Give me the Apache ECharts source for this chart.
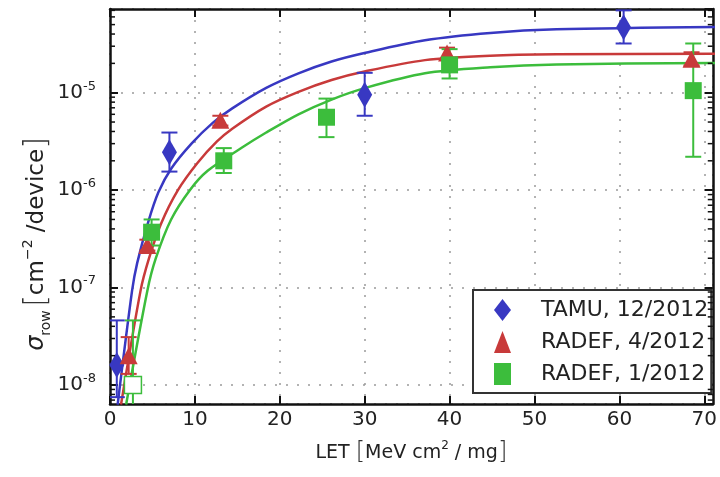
<!DOCTYPE html>
<html>
<head>
<meta charset="utf-8">
<script src="https://cdn.jsdelivr.net/npm/echarts@6/dist/echarts.min.js"></script>
<style>
html, body { margin: 0; padding: 0; background: #fff; }
#chart { width: 720px; height: 477px; }
</style>
</head>
<body>
<div id="chart"></div>
<script>
// measured points: [LET, sigma, sigma low, sigma high]
var tamuPoints = [
  [0.8, 1.6e-8, 7.5e-9, 4.6e-8],
  [7.0, 2.45e-6, 1.55e-6, 3.9e-6],
  [30.0, 9.5e-6, 5.8e-6, 1.6e-5],
  [60.5, 4.7e-5, 3.2e-5, 7.0e-5]
];
var radefAprPoints = [
  [2.2, 2.0e-8, 1.3e-8, 3.1e-8],
  [4.4, 2.7e-7, 2.4e-7, 3.1e-7],
  [13.0, 5.2e-6, 4.6e-6, 5.8e-6],
  [39.7, 2.55e-5, 2.2e-5, 2.9e-5],
  [68.5, 2.2e-5, 1.9e-5, 2.6e-5]
];
var radefJanPoints = [
  [2.7, 1.0e-8, 5.0e-9, 4.6e-8],
  [4.9, 3.7e-7, 2.7e-7, 5.0e-7],
  [13.4, 2.0e-6, 1.5e-6, 2.7e-6],
  [25.5, 5.6e-6, 3.5e-6, 8.7e-6],
  [40.0, 1.93e-5, 1.4e-5, 2.8e-5],
  [68.7, 1.05e-5, 2.2e-6, 3.2e-5]
];
var radefJanOpenIndex = 0; // upper-limit point drawn hollow

// fitted curves
var tamuFitLet   = [0.9, 2.6, 3.2, 4.5, 5.7, 7.2, 9.6, 12.1, 14.4, 18.4, 22.2, 26.1, 30.1, 37.1, 44.8, 52.6, 71.5];
var tamuFitSigma = [6.3e-9, 9.3e-8, 1.78e-7, 4.7e-7, 9.5e-7, 1.66e-6, 3.0e-6, 4.9e-6, 6.9e-6, 1.12e-5, 1.58e-5, 2.09e-5, 2.57e-5, 3.45e-5, 4.1e-5, 4.47e-5, 4.73e-5];
var radefAprFitLet   = [1.3, 3.6, 4.6, 6.0, 8.0, 10.3, 12.6, 14.4, 18.4, 22.2, 26.1, 30.1, 37.1, 44.8, 52.6, 71.5];
var radefAprFitSigma = [6.3e-9, 9.3e-8, 2.0e-7, 4.5e-7, 1.0e-6, 1.9e-6, 3.16e-6, 4.27e-6, 7.2e-6, 1.02e-5, 1.35e-5, 1.66e-5, 2.16e-5, 2.4e-5, 2.48e-5, 2.51e-5];
var radefJanFitLet   = [1.9, 4.4, 5.4, 7.2, 9.4, 11.5, 15.6, 18.4, 22.2, 26.1, 30.1, 37.1, 44.8, 52.6, 71.5];
var radefJanFitSigma = [6.3e-9, 9.3e-8, 2.0e-7, 5.0e-7, 1.0e-6, 1.58e-6, 2.75e-6, 3.9e-6, 6.0e-6, 8.5e-6, 1.12e-5, 1.58e-5, 1.82e-5, 1.95e-5, 2.02e-5];

var seriesNames = ['TAMU, 12/2012', 'RADEF, 4/2012', 'RADEF, 1/2012'];
var xTicks = [0, 10, 20, 30, 40, 50, 60, 70];

var X_MIN = 0, X_MAX = 71;
var Y_MIN = 6.38e-9, Y_MAX = 7.23e-5;

var BLUE = '#3838c2', RED = '#c83a3a', GREEN = '#3cbd3c';
var FONT = 'DejaVu Sans';

function pairs(xs, ys) {
  return xs.map(function (x, i) { return [x, ys[i]]; });
}

function errorBars(points, color) {
  return {
    type: 'custom',
    silent: true,
    clip: true,
    z: 3,
    data: points.map(function (p) { return [p[0], p[2], p[3]]; }),
    encode: { x: 0, y: [1, 2] },
    renderItem: function (params, api) {
      var lo = api.coord([api.value(0), api.value(1)]);
      var hi = api.coord([api.value(0), api.value(2)]);
      var w = 8;
      var st = { stroke: color, lineWidth: 2 };
      return {
        type: 'group',
        children: [
          { type: 'line', shape: { x1: lo[0], y1: lo[1], x2: hi[0], y2: hi[1] }, style: st },
          { type: 'line', shape: { x1: lo[0] - w, y1: lo[1], x2: lo[0] + w, y2: lo[1] }, style: st },
          { type: 'line', shape: { x1: hi[0] - w, y1: hi[1], x2: hi[0] + w, y2: hi[1] }, style: st }
        ]
      };
    }
  };
}

function fitLine(name, xs, ys, color) {
  return {
    name: name,
    type: 'line',
    data: pairs(xs, ys),
    smooth: 0.3,
    showSymbol: false,
    silent: true,
    z: 2,
    lineStyle: { color: color, width: 2.5 }
  };
}

// minor ticks of the log axis (2..9 x 10^n)
var minorTicks = [];
for (var e = -9; e <= -5; e++) {
  for (var m = 2; m <= 9; m++) {
    var v = m * Math.pow(10, e);
    if (v > Y_MIN && v < Y_MAX) minorTicks.push(v);
  }
}

var janData = radefJanPoints.map(function (p, i) {
  if (i === radefJanOpenIndex) {
    return { value: [p[0], p[1]], itemStyle: { color: '#fff', borderColor: GREEN, borderWidth: 1.5 } };
  }
  return [p[0], p[1]];
});

var chart = echarts.init(document.getElementById('chart'));

var xAxisBase = {
  type: 'value',
  min: X_MIN,
  max: X_MAX,
  interval: 10,
  axisLine: { onZero: false, lineStyle: { color: '#111', width: 2.5 } },
  axisTick: { inside: true, length: 8, lineStyle: { color: '#111', width: 2 } }
};
var yAxisBase = {
  type: 'log',
  logBase: 10,
  min: Y_MIN,
  max: Y_MAX,
  axisLine: { onZero: false, lineStyle: { color: '#111', width: 2.5 } },
  axisTick: { inside: true, length: 8, lineStyle: { color: '#111', width: 2 } }
};

chart.setOption({
  animation: false,
  backgroundColor: '#fff',
  grid: { left: 110, right: 2, top: 9, bottom: 73 },
  xAxis: [
    Object.assign({}, xAxisBase, {
      position: 'bottom',
      axisLabel: {
        fontSize: 20, color: '#222', fontFamily: FONT, margin: 6,
        showMaxLabel: false,
        formatter: function (v) { return xTicks.indexOf(v) >= 0 ? String(v) : ''; }
      },
      splitLine: { show: true, lineStyle: { color: '#9a9a9a', width: 1.5, type: [2, 9] } },
      name: '{t|LET }{b|[}{t|MeV cm}{sup|2}{t| / mg}{b|]}',
      nameLocation: 'middle',
      nameGap: 36,
      nameTextStyle: {
        rich: {
          t: { fontSize: 19, fontFamily: FONT, color: '#222', lineHeight: 26 },
          b: { fontSize: 24, fontFamily: FONT, color: '#333', fontWeight: 'lighter', lineHeight: 26 },
          sup: { fontSize: 12, fontFamily: FONT, color: '#222', verticalAlign: 'top', lineHeight: 14 }
        }
      }
    }),
    Object.assign({}, xAxisBase, {
      position: 'top',
      axisLabel: { show: false },
      splitLine: { show: false }
    })
  ],
  yAxis: [
    Object.assign({}, yAxisBase, {
      position: 'left',
      axisLabel: {
        margin: 14,
        showMinLabel: false,
        showMaxLabel: false,
        formatter: function (v) {
          var ex = Math.log10(v);
          var r = Math.round(ex);
          if (Math.abs(ex - r) > 0.01) return '';
          return '{b|10}{s|' + r + '}';
        },
        rich: {
          b: { fontSize: 20, fontFamily: FONT, color: '#222', lineHeight: 26 },
          s: { fontSize: 13, fontFamily: FONT, color: '#222', verticalAlign: 'top', lineHeight: 14 }
        }
      },
      splitLine: { show: true, lineStyle: { color: '#9a9a9a', width: 1.5, type: [2, 9] } }
    }),
    Object.assign({}, yAxisBase, {
      position: 'right',
      axisLabel: { show: false },
      splitLine: { show: false }
    })
  ],
  legend: {
    orient: 'vertical',
    left: 473,
    top: 290,
    data: [
      { name: seriesNames[0], icon: 'diamond' },
      { name: seriesNames[1], icon: 'triangle' },
      { name: seriesNames[2], icon: 'rect' }
    ],
    itemWidth: 17,
    itemHeight: 22,
    itemGap: 10,
    padding: [9, 3, 8, 21],
    backgroundColor: '#fff',
    borderColor: '#333',
    borderWidth: 2,
    borderRadius: 0,
    selectedMode: false,
    textStyle: { fontSize: 22, fontFamily: FONT, color: '#222', padding: [0, 0, 0, 25] }
  },
  graphic: [{
    type: 'text',
    x: 37,
    y: 244,
    rotation: Math.PI / 2,
    style: {
      text: '{s|σ}{sub|row} {b|[}{t|cm}{sup|−2}{t| /device}{b|]}',
      align: 'center',
      verticalAlign: 'middle',
      rich: {
        s: { fontSize: 24, fontFamily: FONT, fontStyle: 'italic', fill: '#222', lineHeight: 32 },
        sub: { fontSize: 14, fontFamily: FONT, fill: '#222', verticalAlign: 'bottom', lineHeight: 16 },
        t: { fontSize: 23, fontFamily: FONT, fill: '#222', lineHeight: 32 },
        b: { fontSize: 30, fontFamily: FONT, fill: '#333', fontWeight: 'lighter', lineHeight: 32 },
        sup: { fontSize: 14, fontFamily: FONT, fill: '#222', verticalAlign: 'top', lineHeight: 16 }
      }
    }
  }],
  series: [
    {
      type: 'custom',
      silent: true,
      clip: false,
      z: 6,
      data: minorTicks.map(function (v) { return [X_MIN, v]; }),
      renderItem: function (params, api) {
        var a = api.coord([X_MIN, api.value(1)]);
        var b = api.coord([X_MAX, api.value(1)]);
        var st = { stroke: '#111', lineWidth: 1.5 };
        return {
          type: 'group',
          children: [
            { type: 'line', shape: { x1: a[0], y1: a[1], x2: a[0] + 5, y2: a[1] }, style: st },
            { type: 'line', shape: { x1: b[0] - 5, y1: b[1], x2: b[0], y2: b[1] }, style: st }
          ]
        };
      }
    },
    fitLine('fit-tamu', tamuFitLet, tamuFitSigma, BLUE),
    fitLine('fit-radef-apr', radefAprFitLet, radefAprFitSigma, RED),
    fitLine('fit-radef-jan', radefJanFitLet, radefJanFitSigma, GREEN),
    errorBars(tamuPoints, BLUE),
    errorBars(radefAprPoints, RED),
    errorBars(radefJanPoints, GREEN),
    {
      name: seriesNames[0],
      type: 'scatter',
      symbol: 'diamond',
      symbolSize: [15, 26],
      z: 5,
      itemStyle: { color: BLUE, opacity: 1 },
      data: tamuPoints.map(function (p) { return [p[0], p[1]]; })
    },
    {
      name: seriesNames[1],
      type: 'scatter',
      symbol: 'triangle',
      symbolSize: [18, 17],
      z: 5,
      itemStyle: { color: RED, opacity: 1 },
      data: radefAprPoints.map(function (p) { return [p[0], p[1]]; })
    },
    {
      name: seriesNames[2],
      type: 'scatter',
      symbol: 'rect',
      symbolSize: 17,
      z: 5,
      itemStyle: { color: GREEN, opacity: 1 },
      data: janData
    }
  ]
});
</script>
</body>
</html>
